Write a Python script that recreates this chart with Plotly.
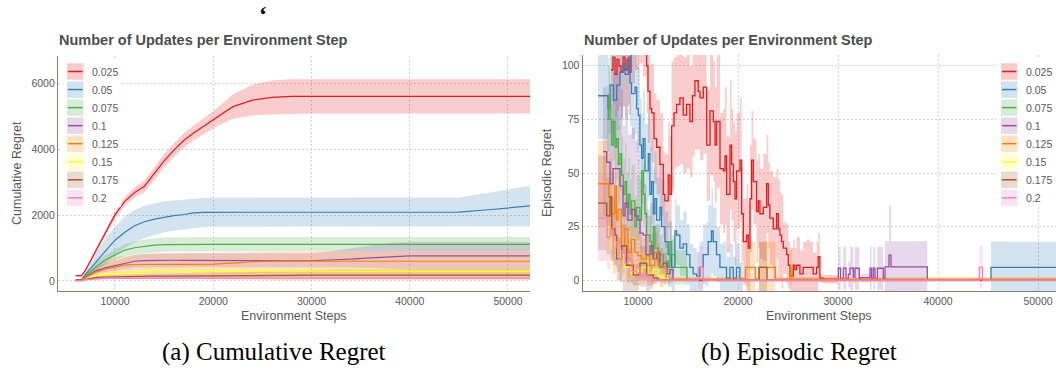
import plotly.graph_objects as go

W, H = 1056, 378

levels = ["0.025", "0.05", "0.075", "0.1", "0.125", "0.15", "0.175", "0.2"]
palette = ["#E41A1C", "#377EB8", "#4DAF4A", "#984EA3", "#FF7F00", "#FFFF33", "#A65628", "#F781BF"]

x_ticks = [10000, 20000, 30000, 40000, 50000]
cum_ticks = [0, 2000, 4000, 6000]
ep_ticks = [0, 25, 50, 75, 100]

# ---------------- cumulative regret (mean with lower / upper band) ----------------
cum_steps = [6000, 6600, 7000, 8000, 9000, 10000, 11000, 12000, 13000, 14000,
             15000, 16000, 17000, 18000, 19000, 20000, 22000, 24000, 26000, 28000,
             30000, 32000, 34000, 36000, 38000, 40000, 45000, 48000, 50000, 52400]

cum_red = [160, 160, 330, 890, 1450, 2010, 2420, 2690, 2880, 3270,
           3650, 3980, 4270, 4500, 4700, 4900, 5300, 5500, 5580, 5610,
           5615, 5615, 5615, 5615, 5615, 5615, 5615, 5615, 5615, 5615]
cum_red_lo = [130, 130, 290, 830, 1370, 1910, 2290, 2530, 2700, 3070,
              3450, 3770, 4050, 4270, 4460, 4640, 4930, 5030, 5065, 5090,
              5095, 5095, 5095, 5095, 5095, 5095, 5095, 5095, 5095, 5095]
cum_red_hi = [190, 190, 370, 950, 1530, 2110, 2550, 2850, 3060, 3470,
              3850, 4190, 4490, 4730, 4940, 5160, 5670, 5970, 6095, 6130,
              6135, 6135, 6135, 6135, 6135, 6135, 6135, 6135, 6135, 6135]

cum_blue = [45, 45, 200, 560, 900, 1240, 1480, 1680, 1800, 1880,
            1940, 1985, 2020, 2070, 2085, 2090, 2090, 2090, 2090, 2090,
            2090, 2090, 2090, 2090, 2090, 2090, 2095, 2165, 2220, 2285]
cum_blue_lo = [30, 30, 120, 300, 520, 780, 1000, 1180, 1300, 1400,
               1480, 1530, 1570, 1620, 1640, 1645, 1645, 1645, 1645, 1645,
               1645, 1645, 1645, 1645, 1645, 1645, 1645, 1650, 1655, 1665]
cum_blue_hi = [60, 60, 280, 820, 1280, 1650, 1950, 2160, 2290, 2360,
               2420, 2450, 2480, 2510, 2525, 2530, 2530, 2530, 2530, 2530,
               2530, 2530, 2530, 2530, 2530, 2530, 2540, 2680, 2780, 2900]

cum_green = [30, 30, 150, 420, 640, 790, 940, 1010, 1050, 1090,
             1105, 1110, 1110, 1110, 1110, 1110, 1110, 1110, 1110, 1110,
             1110, 1110, 1110, 1110, 1110, 1110, 1110, 1110, 1110, 1110]
cum_green_lo = [20, 20, 100, 300, 490, 630, 760, 810, 840, 875,
                890, 895, 895, 895, 895, 895, 895, 895, 895, 895,
                895, 895, 895, 895, 895, 895, 895, 895, 895, 895]
cum_green_hi = [40, 40, 200, 540, 790, 950, 1120, 1210, 1260, 1305,
                1320, 1330, 1335, 1340, 1340, 1340, 1340, 1340, 1340, 1340,
                1340, 1340, 1340, 1340, 1340, 1340, 1340, 1340, 1340, 1340]

cum_purple = [25, 25, 120, 300, 400, 460, 540, 600, 620, 630,
              630, 630, 628, 625, 622, 620, 617, 615, 615, 615,
              615, 630, 665, 705, 740, 762, 765, 765, 765, 765]
cum_purple_lo = [15, 15, 80, 200, 270, 320, 360, 400, 410, 415,
                 415, 415, 415, 415, 415, 415, 415, 415, 415, 415,
                 415, 420, 410, 395, 370, 345, 340, 340, 340, 340]
cum_purple_hi = [35, 35, 160, 400, 530, 600, 720, 800, 830, 845,
                 845, 845, 845, 845, 845, 845, 845, 845, 845, 845,
                 845, 900, 990, 1080, 1160, 1190, 1190, 1190, 1190, 1190]

cum_orange = [20, 20, 100, 260, 360, 430, 480, 500, 505, 505,
              505, 505, 505, 505, 508, 510, 545, 585, 600, 600,
              600, 600, 600, 600, 600, 600, 600, 600, 600, 600]
cum_orange_lo = [10, 10, 40, 100, 120, 100, 90, 80, 75, 70,
                 65, 60, 55, 50, 45, 40, 30, 25, 20, 20,
                 20, 20, 20, 20, 20, 20, 20, 20, 20, 20]
cum_orange_hi = [30, 30, 160, 420, 600, 720, 770, 800, 815, 825,
                 830, 835, 838, 840, 843, 850, 870, 885, 890, 890,
                 890, 890, 890, 890, 890, 890, 890, 890, 890, 890]

cum_yellow = [10, 10, 60, 150, 200, 220, 245, 260, 275, 290,
              295, 300, 300, 300, 300, 300, 300, 300, 300, 300,
              300, 300, 300, 300, 300, 300, 300, 300, 300, 300]
cum_yellow_lo = [5, 5, 30, 90, 130, 145, 165, 180, 195, 210,
                 215, 220, 220, 220, 220, 220, 220, 220, 220, 220,
                 220, 220, 220, 220, 220, 220, 220, 220, 220, 220]
cum_yellow_hi = [15, 15, 90, 210, 270, 295, 325, 340, 355, 370,
                 375, 380, 380, 380, 380, 380, 380, 380, 380, 380,
                 380, 380, 380, 380, 380, 380, 380, 380, 380, 380]

cum_brown = [10, 10, 50, 100, 120, 130, 138, 142, 145, 148,
             150, 150, 150, 150, 150, 150, 155, 160, 165, 170,
             175, 178, 180, 180, 180, 180, 180, 180, 180, 180]
cum_brown_lo = [5, 5, 30, 60, 70, 75, 80, 82, 85, 88,
                90, 90, 90, 90, 90, 90, 90, 90, 90, 90,
                90, 90, 90, 90, 90, 90, 90, 90, 90, 90]
cum_brown_hi = [15, 15, 70, 140, 170, 190, 200, 205, 210, 215,
                220, 220, 225, 230, 235, 240, 260, 280, 300, 320,
                340, 350, 350, 350, 350, 350, 350, 350, 350, 350]

cum_pink = [10, 10, 40, 65, 75, 80, 82, 84, 85, 86,
            87, 88, 88, 88, 88, 88, 88, 88, 88, 88,
            88, 88, 88, 88, 88, 88, 88, 88, 88, 88]
cum_pink_lo = [5, 5, 20, 35, 45, 48, 50, 52, 53, 54,
               55, 55, 55, 55, 55, 55, 55, 55, 55, 55,
               55, 55, 55, 55, 55, 55, 55, 55, 55, 55]
cum_pink_hi = [15, 15, 60, 100, 110, 115, 118, 120, 122, 124,
               125, 125, 125, 125, 125, 125, 125, 125, 125, 125,
               125, 125, 125, 125, 125, 125, 125, 125, 125, 125]

# ---------------- episodic regret (step series with spread) ----------------
ep_red_x = [7300, 7500, 7700, 7900, 8100, 8300, 8500, 8700, 8900, 9100,
            9300, 9700, 10100, 10500, 10860, 11000, 11200, 11360, 11600, 11860,
            12190, 12530, 12690, 13020, 13190, 13360, 13600, 13860, 14190, 14520,
            14860, 15190, 15450, 15690, 16020, 16200, 16530, 16870, 17200, 17530,
            17700, 17870, 18200, 18530, 18700, 18860, 19200, 19360, 19530, 19700,
            19860, 20200, 20360, 20530, 20860, 21030, 21200, 21360, 21530, 21860,
            22030, 22190, 22530, 22860, 23030, 23190, 23530, 23860, 24030, 24190,
            24360, 24530, 24860, 25030, 25190, 25530, 25690, 25860, 26190, 26520,
            26860, 27190, 27520, 27860, 28020, 28190, 28520, 30000, 52000]
ep_red = [98, 104, 96, 103, 100, 97, 104, 98, 103, 97,
          112, 120, 125, 115, 100, 88, 80, 78, 66, 62,
          54, 40, 37, 49, 40, 72, 78, 82, 85, 77,
          82, 74, 86, 93, 88, 85, 90, 63, 79, 74,
          63, 74, 52, 51, 58, 40, 63, 54, 46, 38,
          51, 56, 31, 18, 21, 15, 38, 56, 46, 32,
          37, 31, 34, 45, 35, 29, 24, 31, 24, 21,
          18, 15, 12, 7, 2, 7, 5, 7, 3, 6,
          6, 6, 3, 6, 11, 1, 0.5, 0, 0]
ep_red_sd = [18, 22, 20, 24, 19, 21, 23, 18, 22, 20,
             20, 22, 24, 20, 22, 24, 20, 23, 21, 22,
             24, 20, 22, 25, 27, 30, 26, 29, 31, 27,
             30, 26, 28, 32, 27, 29, 31, 26, 30, 28,
             27, 31, 26, 29, 32, 27, 30, 26, 28, 31,
             27, 29, 22, 20, 24, 21, 25, 23, 20, 24,
             22, 21, 25, 23, 20, 22, 24, 21, 23, 20,
             22, 12, 14, 11, 13, 12, 10, 13, 11, 12,
             13, 12, 10, 12, 11, 2, 2, 0, 0]

ep_blue_x = [6000, 6900, 7000, 7200, 7530, 7870, 8200, 8530, 8700, 9030,
             9200, 9360, 9700, 9870, 10030, 10190, 10360, 10530, 10700, 11030,
             11190, 11360, 11530, 11690, 11860, 12190, 12360, 12690, 13020, 13360,
             13690, 13860, 14190, 14520, 14860, 15190, 15520, 15860, 16190, 16520,
             16850, 17020, 17350, 17520, 17850, 18190, 18520, 18850, 19190, 19520,
             19850, 20180, 20500, 45300, 52000]
ep_blue = [86, 86, 80, 91, 84, 91, 97, 101, 96, 104,
           92, 87, 90, 80, 77, 63, 57, 66, 51, 59,
           40, 46, 31, 38, 28, 34, 25, 18, 12, 6,
           23, 21, 15, 17, 12, 6, 3, 2, 6, 12,
           12, 18, 23, 18, 12, 6, 6, 1, 6, 1,
           6, 0.5, 0, 6, 6]
ep_blue_sd = [20, 20, 20, 22, 20, 21, 22, 20, 21, 22,
              20, 21, 22, 20, 22, 22, 21, 23, 22, 21,
              22, 20, 21, 22, 20, 21, 22, 14, 15, 13,
              15, 14, 13, 15, 14, 11, 12, 11, 12, 14,
              15, 17, 20, 16, 13, 11, 12, 10, 11, 10,
              11, 8, 0.5, 12, 12]

ep_green_x = [6900, 7030, 7200, 7360, 7530, 7700, 7860, 8030, 8200, 8360,
              8530, 8700, 8860, 9030, 9200, 9360, 9690, 9860, 10190, 10360,
              10530, 10690, 10860, 11190, 11360, 11530, 11690, 12030, 12190, 12530,
              12860, 13030, 13190, 13360, 13690, 14190, 14900, 52000]
ep_green = [75, 86, 75, 63, 74, 62, 66, 54, 59, 49,
            40, 46, 34, 40, 31, 37, 25, 34, 28, 51,
            40, 31, 21, 18, 12, 25, 15, 9, 12, 6,
            9, 6, 18, 12, 6, 6, 0, 0]
ep_green_sd = [16, 18, 17, 19, 18, 17, 19, 18, 17, 18,
               17, 18, 16, 17, 16, 17, 14, 15, 14, 16,
               14, 13, 12, 12, 10, 13, 11, 8, 9, 7,
               8, 7, 10, 9, 8, 8, 0.5, 0.5]

ep_purple_x = [6500, 6870, 7200, 7500, 7870, 8200, 8500, 8700, 9000, 9400,
               9700, 10000, 10200, 10530, 10800, 11200, 11500, 11870, 12200, 12530,
               12900, 13200, 13500, 30030, 30260, 30530, 30800, 31030, 31200, 31530,
               31700, 32130, 32260, 33200, 33360, 33530, 33700, 33930, 34530, 34700,
               35100, 35300, 38930, 52000]
ep_purple = [60, 55, 45, 52, 52, 44, 30, 36, 28, 33,
             30, 28, 22, 21, 12, 16, 10, 13, 6, 8,
             3, 5, 0, 5.6, 0.5, 5.6, 0.5, 2.8, 5.6, 1.5,
             5.6, 0.5, 1.2, 5.6, 0.5, 5.6, 0.5, 5.6, 0.5, 6.2,
             11.7, 6.2, 0, 0]
ep_purple_sd = [30, 32, 35, 45, 48, 45, 42, 44, 40, 38,
                35, 28, 25, 24, 18, 20, 12, 13, 9, 10,
                5, 6, 0.5, 10, 1, 10, 1, 6, 10, 3,
                10, 1, 2, 10, 1, 10, 1, 10, 1, 12,
                23, 12, 0, 0]

ep_orange_x = [6000, 7070, 7330, 7670, 7830, 8000, 8330, 8670, 9000, 9330,
               9670, 10000, 10330, 10830, 11170, 11670, 12000, 12500, 12830, 20750,
               21750, 22100, 23750, 25200, 25400, 52000]
ep_orange = [45, 39, 31, 44, 28, 33, 16, 24, 13, 19,
             13, 11.5, 10, 11.5, 6.8, 13, 6.8, 6, 0.5, 6,
             0.5, 6, 0.5, 6, 0.5, 0.5]
ep_orange_sd = [20, 20, 19, 20, 16, 16, 14, 15, 12, 14,
                12, 11, 10, 10, 8, 10, 8, 7, 1, 12,
                1, 12, 1, 8, 1, 0.5]

ep_yellow_x = [6800, 7100, 7400, 7700, 8000, 8300, 8600, 9000, 9300, 9700,
               10000, 10400, 11000, 11500, 12000, 12500, 13000, 52000]
ep_yellow = [25, 20, 15, 18, 10, 12, 6, 8, 3, 6,
             4, 6, 3, 5, 2, 1, 0, 0]
ep_yellow_sd = [15, 14, 12, 12, 10, 10, 9, 9, 8, 8,
                7, 7, 6, 6, 5, 4, 0.5, 0.5]

ep_brown_x = [6000, 6870, 7200, 7370, 7700, 7870, 8370, 8870, 9530, 10200,
              10870, 11530, 12000, 22100, 22900, 52000]
ep_brown = [36, 30, 39, 24, 21, 10, 16, 7, 2.5, 8,
            2.5, 1, 0, 6, 0, 0]
ep_brown_sd = [22, 18, 18, 15, 14, 10, 10, 8, 5, 8,
               5, 2, 0.5, 12, 0.5, 0.5]

ep_pink_x = [6000, 6900, 7200, 7500, 7800, 8100, 8400, 8700, 9000, 9400,
             9800, 10200, 10600, 11000, 11500, 16020, 16520, 44130, 44460, 52000]
ep_pink = [29, 20, 24, 15, 18, 10, 14, 8, 10, 4,
           6, 2, 3, 1, 0, 6, 0, 6, 0, 0]
ep_pink_sd = [20, 15, 15, 12, 12, 10, 10, 8, 8, 6,
              6, 4, 4, 2, 0.5, 10, 0.5, 10, 0.5, 0.5]

cumulative = [
    (cum_red, cum_red_lo, cum_red_hi),
    (cum_blue, cum_blue_lo, cum_blue_hi),
    (cum_green, cum_green_lo, cum_green_hi),
    (cum_purple, cum_purple_lo, cum_purple_hi),
    (cum_orange, cum_orange_lo, cum_orange_hi),
    (cum_yellow, cum_yellow_lo, cum_yellow_hi),
    (cum_brown, cum_brown_lo, cum_brown_hi),
    (cum_pink, cum_pink_lo, cum_pink_hi),
]
episodic = [
    (ep_red_x, ep_red, ep_red_sd),
    (ep_blue_x, ep_blue, ep_blue_sd),
    (ep_green_x, ep_green, ep_green_sd),
    (ep_purple_x, ep_purple, ep_purple_sd),
    (ep_orange_x, ep_orange, ep_orange_sd),
    (ep_yellow_x, ep_yellow, ep_yellow_sd),
    (ep_brown_x, ep_brown, ep_brown_sd),
    (ep_pink_x, ep_pink, ep_pink_sd),
]

TEXT = "#4D4D4D"
TICK = "#595959"
AXIS_LINE = "#8E7A66"
GRID = "#D3D3D3"
SANS = "Liberation Sans, Arial, sans-serif"
SERIF = "Liberation Serif, Times New Roman, serif"


def rgba(hex_color, alpha):
    h = hex_color.lstrip("#")
    return f"rgba({int(h[0:2], 16)},{int(h[2:4], 16)},{int(h[4:6], 16)},{alpha})"


fig = go.Figure()

# bands of the cumulative panel
for i, (mean, lo, hi) in enumerate(cumulative):
    fig.add_trace(go.Scatter(x=cum_steps, y=lo, mode="lines", line=dict(width=0),
                             hoverinfo="skip", showlegend=False, xaxis="x", yaxis="y"))
    fig.add_trace(go.Scatter(x=cum_steps, y=hi, mode="lines", line=dict(width=0),
                             fill="tonexty", fillcolor=rgba(palette[i], 0.22),
                             hoverinfo="skip", showlegend=False, xaxis="x", yaxis="y"))
# mean lines of the cumulative panel
for i, (mean, lo, hi) in enumerate(cumulative):
    fig.add_trace(go.Scatter(x=cum_steps, y=mean, mode="lines", name=levels[i],
                             line=dict(color=palette[i], width=1.2),
                             showlegend=False, xaxis="x", yaxis="y"))

# bands of the episodic panel
for i, (xs, mean, sd) in enumerate(episodic):
    lo = [m - s for m, s in zip(mean, sd)]
    hi = [m + s for m, s in zip(mean, sd)]
    fig.add_trace(go.Scatter(x=xs, y=lo, mode="lines", line=dict(width=0, shape="hv"),
                             hoverinfo="skip", showlegend=False, xaxis="x2", yaxis="y2"))
    fig.add_trace(go.Scatter(x=xs, y=hi, mode="lines", line=dict(width=0, shape="hv"),
                             fill="tonexty", fillcolor=rgba(palette[i], 0.22),
                             hoverinfo="skip", showlegend=False, xaxis="x2", yaxis="y2"))
# step lines of the episodic panel
for i, (xs, mean, sd) in enumerate(episodic):
    fig.add_trace(go.Scatter(x=xs, y=mean, mode="lines", name=levels[i],
                             line=dict(color=palette[i], width=1.3, shape="hv"),
                             showlegend=False, xaxis="x2", yaxis="y2"))


def px_x(p):
    return p / W


def px_y(p):
    return 1 - p / H


axis_common = dict(
    showgrid=True, gridcolor=GRID, griddash="2px,2px", gridwidth=1,
    showline=True, linecolor=AXIS_LINE, linewidth=1.3, zeroline=False,
    ticks="", tickfont=dict(family=SANS, size=10.5, color=TICK), tickformat="d",
)

fig.update_layout(
    width=W, height=H, margin=dict(l=0, r=0, t=0, b=0),
    paper_bgcolor="white", plot_bgcolor="white", showlegend=False,
    xaxis=dict(domain=[px_x(58), px_x(530)], range=[4200, 52240], tickvals=x_ticks,
               anchor="y", **axis_common),
    yaxis=dict(domain=[px_y(291), px_y(56)], range=[-305, 6840], tickvals=cum_ticks,
               anchor="x", **axis_common),
    xaxis2=dict(domain=[px_x(582.7), 1.0], range=[4470, 51800], tickvals=x_ticks,
                anchor="y2", **axis_common),
    yaxis2=dict(domain=[px_y(291), px_y(55)], range=[-5, 105], tickvals=ep_ticks,
                anchor="x2", **axis_common),
)

shapes = []
annotations = []

# legends drawn on white boxes inside each panel
legend_boxes = [(60, 121), (996, 1056)]
key_lefts = [67, 1001]
for box, key_x in zip(legend_boxes, key_lefts):
    shapes.append(dict(type="rect", xref="paper", yref="paper", layer="above",
                       x0=px_x(box[0]), x1=px_x(box[1]), y0=px_y(207), y1=px_y(58),
                       fillcolor="white", line=dict(width=0)))
    for i, lab in enumerate(levels):
        cy = 71.5 + 18.05 * i
        shapes.append(dict(type="rect", xref="paper", yref="paper", layer="above",
                           x0=px_x(key_x), x1=px_x(key_x + 16.5),
                           y0=px_y(cy + 8.2), y1=px_y(cy - 8.2),
                           fillcolor=rgba(palette[i], 0.22), line=dict(width=0)))
        shapes.append(dict(type="line", xref="paper", yref="paper", layer="above",
                           x0=px_x(key_x + 1), x1=px_x(key_x + 15.5),
                           y0=px_y(cy), y1=px_y(cy),
                           line=dict(color=palette[i], width=1.5)))
        annotations.append(dict(text=lab, xref="paper", yref="paper",
                                x=px_x(key_x + 23), y=px_y(cy), xanchor="left",
                                yanchor="middle", showarrow=False,
                                font=dict(family=SANS, size=10.5, color=TICK)))

title_text = "Number of Updates per Environment Step"
for tx in (57, 582):
    annotations.append(dict(text=f"<b>{title_text}</b>", xref="paper", yref="paper",
                            x=px_x(tx), y=px_y(40), xanchor="left", yanchor="middle",
                            showarrow=False, font=dict(family=SANS, size=14.5, color=TEXT)))

# axis titles
for cx in (294, 819):
    annotations.append(dict(text="Environment Steps", xref="paper", yref="paper",
                            x=px_x(cx), y=px_y(316), xanchor="center", yanchor="middle",
                            showarrow=False, font=dict(family=SANS, size=12.5, color=TICK)))
annotations.append(dict(text="Cumulative Regret", xref="paper", yref="paper",
                        x=px_x(17), y=px_y(173), xanchor="center", yanchor="middle",
                        textangle=-90, showarrow=False,
                        font=dict(family=SANS, size=12.5, color=TICK)))
annotations.append(dict(text="Episodic Regret", xref="paper", yref="paper",
                        x=px_x(547), y=px_y(173), xanchor="center", yanchor="middle",
                        textangle=-90, showarrow=False,
                        font=dict(family=SANS, size=12.5, color=TICK)))

# sub-figure captions
annotations.append(dict(text="(a) Cumulative Regret", xref="paper", yref="paper",
                        x=px_x(274), y=px_y(352), xanchor="center", yanchor="middle",
                        showarrow=False, font=dict(family=SERIF, size=25, color="black")))
annotations.append(dict(text="(b) Episodic Regret", xref="paper", yref="paper",
                        x=px_x(799), y=px_y(352), xanchor="center", yanchor="middle",
                        showarrow=False, font=dict(family=SERIF, size=25, color="black")))
annotations.append(dict(text="<b>\u2018</b>", xref="paper", yref="paper",
                        x=px_x(263), y=px_y(14), xanchor="center", yanchor="middle",
                        showarrow=False, font=dict(family=SERIF, size=24, color="black")))

fig.update_layout(shapes=shapes, annotations=annotations)

fig.write_html("out.html")
